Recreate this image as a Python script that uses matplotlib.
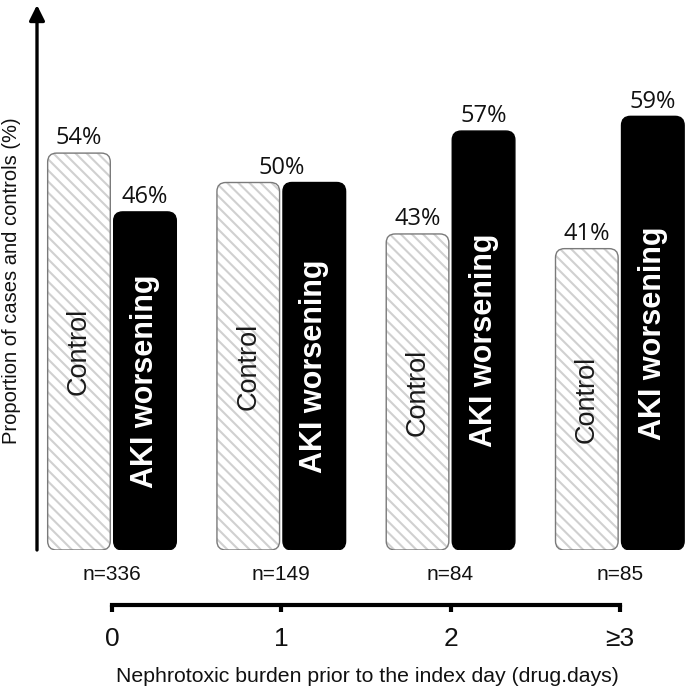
import matplotlib
matplotlib.use("Agg")
import matplotlib.pyplot as plt
from matplotlib.patches import FancyBboxPatch
import numpy as np

# ---- data ----
categories = ["0", "1", "2", "\u22653"]
n_labels = ["n=336", "n=149", "n=84", "n=85"]
control = [54, 50, 43, 41]
aki = [46, 50, 57, 59]
series_names = ["Control", "AKI worsening"]

W, H = 685, 691
DPI = 100
plt.rcParams['hatch.linewidth'] = 1.5
fig = plt.figure(figsize=(W / DPI, H / DPI), dpi=DPI)

def px_box(l, t, r, b):
    return [l / W, (H - b) / H, (r - l) / W, (b - t) / H]

ax = fig.add_axes(px_box(37, 5, 685, 550))
x = np.arange(len(categories))
ax.set_xlim(-0.443, 3.385)
ax.set_ylim(0, 74.15)
for s in ax.spines.values():
    s.set_visible(False)
ax.set_xticks([])
ax.set_yticks([])

off, bw = 0.195, 0.37

b1 = ax.bar(x - off, control, bw)
b2 = ax.bar(x + off, aki, bw)

# rounded corners: pixel radius converted to data units
fig.canvas.draw()
p0 = ax.transData.transform((0, 0))
p1 = ax.transData.transform((1, 1))
pxx, pxy = p1[0] - p0[0], p1[1] - p0[1]
r_px = 9
rx = r_px / pxx
aspect = (r_px / pxy) / rx

def rounded(rect, **kw):
    xx, yy = rect.get_x(), rect.get_y()
    w, h = rect.get_width(), rect.get_height()
    p = FancyBboxPatch((xx, yy), w, h,
                       boxstyle=f"round,pad=0,rounding_size={rx}",
                       mutation_aspect=aspect, **kw)
    ax.add_patch(p)
    return p

for r in b1:
    r.set_visible(False)
    rounded(r, facecolor='white', edgecolor='#d0d0d0', linewidth=0,
            hatch='\\\\\\')
    rounded(r, facecolor='none', edgecolor='#7a7a7a', linewidth=1.0)
for r in b2:
    r.set_visible(False)
    rounded(r, facecolor='black', edgecolor='black', linewidth=1.0)

pct_font = dict(family=['Open Sans', 'DejaVu Sans'], fontsize=17, color='#111111')
for i in range(len(categories)):
    if control[i] == aki[i]:
        ax.annotate(f"{control[i]}%", xy=(x[i], control[i]), xytext=(0, 2),
                    textcoords='offset points', ha='center', va='bottom', **pct_font)
    else:
        ax.annotate(f"{control[i]}%", xy=(x[i] - off, control[i]), xytext=(0, 2),
                    textcoords='offset points', ha='center', va='bottom', **pct_font)
        ax.annotate(f"{aki[i]}%", xy=(x[i] + off, aki[i]), xytext=(0, 2),
                    textcoords='offset points', ha='center', va='bottom', **pct_font)
    ax.text(x[i] - off, control[i] / 2, series_names[0], rotation=90,
            ha='center', va='center', family=['Liberation Sans', 'DejaVu Sans'],
            fontsize=19.5, color='#1a1a1a')
    ax.text(x[i] + off, aki[i] / 2, series_names[1], rotation=90,
            ha='center', va='center', family=['Liberation Sans', 'DejaVu Sans'],
            fontsize=22, fontweight='bold', color='white')
    ax.annotate(n_labels[i], xy=(x[i], 0), xycoords=('data', 'axes fraction'),
                xytext=(0, -18), textcoords='offset points', ha='center', va='center',
                family=['Liberation Sans', 'DejaVu Sans'], fontsize=15, color='#111111')

# vertical arrow axis
ax.annotate('', xy=(0, 1.0), xycoords='axes fraction', xytext=(0, 0.0),
            arrowprops=dict(arrowstyle='-|>', lw=2.4, color='black',
                            mutation_scale=23, shrinkA=0, shrinkB=0),
            annotation_clip=False)

ax.set_ylabel("Proportion of cases and controls (%)",
              family=['Liberation Sans', 'DejaVu Sans'], fontsize=14.5, color='#111111')
ax.yaxis.set_label_coords(12 / W, (H - 281) / H, transform=fig.transFigure)
ax.yaxis.label.set_va('center')

# lower category axis
ax2 = fig.add_axes([37 / W, (H - 605) / H, (685 - 37) / W, 0.0001])
ax2.set_xlim(ax.get_xlim())
ax2.patch.set_visible(False)
for k in ['top', 'left', 'right']:
    ax2.spines[k].set_visible(False)
ax2.spines['bottom'].set_linewidth(3)
ax2.spines['bottom'].set_bounds(0, 3)
ax2.spines['bottom'].set_capstyle('projecting')
ax2.set_yticks([])
ax2.set_xticks(x)
ax2.set_xticklabels(categories, family=['Liberation Sans', 'DejaVu Sans'],
                    fontsize=19, color='#111111')
ax2.tick_params(axis='x', direction='out', length=5, width=3, pad=11)
ax2.set_xlabel("Nephrotoxic burden prior to the index day (drug.days)",
               family=['Liberation Sans', 'DejaVu Sans'], fontsize=15.3, color='#111111')
ax2.xaxis.set_label_coords(367 / W, (H - 677) / H, transform=fig.transFigure)
ax2.xaxis.label.set_va('center')

fig.savefig("out.png", dpi=DPI)
